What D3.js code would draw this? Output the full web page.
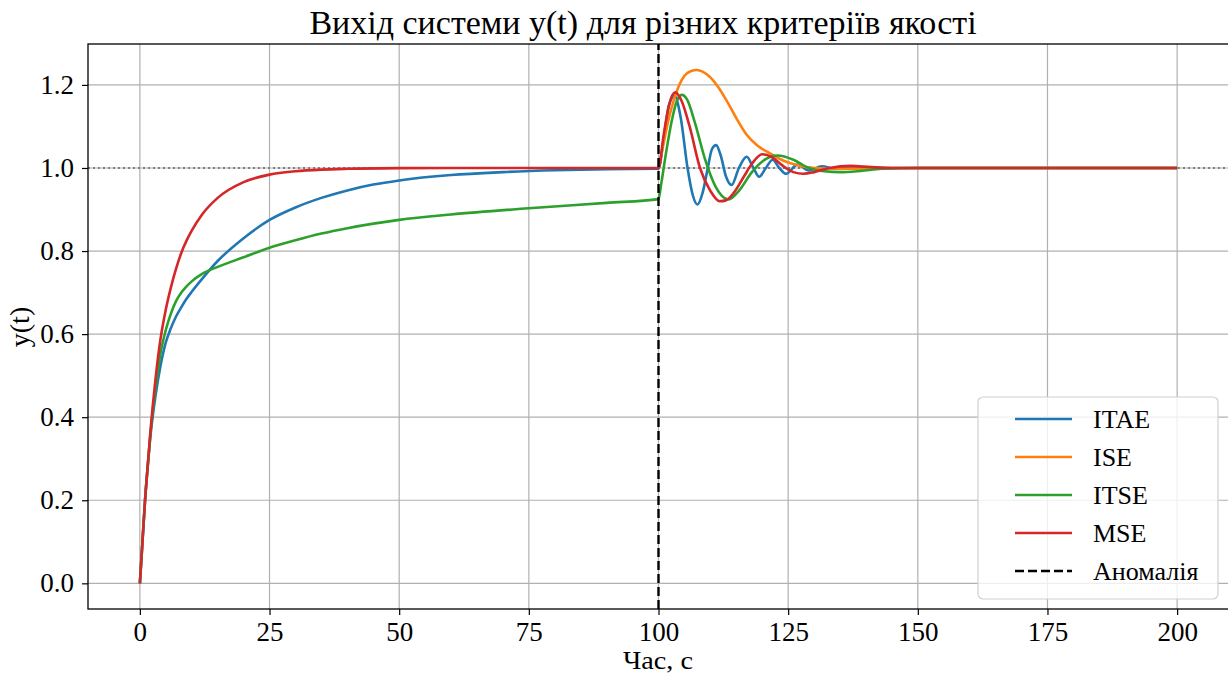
<!DOCTYPE html>
<meta charset="utf-8">
<script src="https://cdn.jsdelivr.net/npm/d3@7"></script>
<style>
body { margin: 0; background: #fff; }
text { font-family: "Liberation Serif", "Times New Roman", serif; fill: #000; }
.grid line { stroke: #b0b0b0; stroke-width: 1.2px; }
.series { fill: none; stroke-width: 2.6px; }
</style>
<body>
<div id="chart"></div>
<script>
// values: [time, y]
var itae = [[0,0],[0.5,0.1],[1,0.2],[1.5,0.28],[2,0.35],[3,0.45],[4,0.525],[5,0.58],[6,0.615],[7,0.643],[8,0.665],
  [9,0.685],[10,0.702],[12,0.733],[15,0.776],[20,0.831],[25,0.875],[30,0.905],[35,0.928],[40,0.946],[45,0.96],
  [50,0.97],[60,0.983],[70,0.99],[80,0.9945],[90,0.997],[100,0.998],
  [101,1.07],[102,1.15],[103.1,1.174],[104.3,1.12],[105.6,1.0],[106.6,0.935],[107.5,0.912],[108.5,0.94],[109.5,1.0],
  [110.3,1.045],[111.1,1.055],[112,1.03],[113,0.98],[114.1,0.959],[115.5,1.0],[117,1.027],[118.3,1.0],[119.4,0.979],
  [120.7,1.0],[122,1.02],[123.3,1.0],[124.6,0.986],[126.8,1.008],[129,0.994],[131.5,1.004],[134,0.998],[138,1.001],[145,1.0],[200,1.0]];

var ise = [[100,1.0],[101,1.06],[102,1.12],[103,1.165],[104,1.2],[105,1.222],[106.2,1.233],[107.4,1.236],[108.5,1.232],
  [110,1.218],[111.5,1.195],[113,1.165],[115,1.12],[117,1.08],[119,1.055],[121.5,1.035],[124,1.018],[127,1.006],
  [130,1.0],[135,0.998],[140,0.999],[150,1.0],[200,1.0]];

var itse = [[0,0],[0.5,0.1],[1,0.2],[1.5,0.28],[2,0.355],[3,0.47],[4,0.555],[5,0.61],[6,0.65],[7,0.68],[8,0.7],
  [9,0.715],[10,0.727],[12,0.745],[15,0.762],[20,0.785],[25,0.808],[30,0.826],[35,0.842],[40,0.855],[50,0.875],
  [60,0.888],[75,0.903],[90,0.916],[100,0.925],
  [100.5,0.96],[101.5,1.04],[102.5,1.11],[103.5,1.16],[104.5,1.176],[105.5,1.165],[107,1.11],[109,1.02],[111,0.955],
  [113.5,0.924],[115.5,0.945],[118,0.99],[120.5,1.02],[123,1.03],[126,1.02],[129,1.0],[132,0.992],[135,0.99],
  [139,0.993],[143,0.998],[150,1.0],[200,1.0]];

var mse = [[0,0],[0.5,0.1],[1,0.2],[1.5,0.28],[2,0.36],[3,0.49],[4,0.59],[5,0.659],[6,0.713],[7,0.758],[8,0.796],
  [9,0.825],[10,0.849],[12,0.888],[15,0.928],[20,0.966],[25,0.984],[30,0.992],[35,0.996],[40,0.998],[50,0.9996],
  [60,1.0],[100,1.0],
  [101,1.08],[102,1.15],[103.2,1.182],[104.5,1.16],[106,1.1],[108,1.0],[110,0.945],[111.8,0.92],[113,0.922],
  [114.5,0.94],[116.5,0.98],[118,1.01],[120,1.033],[122,1.025],[124,1.005],[126,0.99],[128,0.986],[130,0.99],
  [133,1.0],[137,1.005],[141,1.002],[145,1.0],[200,1.0]];

var seriesNames = ["ITAE", "ISE", "ITSE", "MSE"];
var seriesColors = ["#1f77b4", "#ff7f0e", "#2ca02c", "#d62728"];
var seriesData = [itae, ise, itse, mse];
var xTicks = [0, 25, 50, 75, 100, 125, 150, 175, 200];
var yTicks = [0.0, 0.2, 0.4, 0.6, 0.8, 1.0, 1.2];
var anomalyTime = 100;
var setpoint = 1.0;

var W = 1228, H = 676;
var margin = {top: 44, left: 88, bottom: 67, right: -1};

var svg = d3.select("#chart").append("svg")
  .attr("width", W).attr("height", H);

var x = d3.scaleLinear().domain([-10, 210]).range([margin.left, W - margin.right]);
var y = d3.scaleLinear().domain([-0.0618, 1.2985]).range([H - margin.bottom, margin.top]);

svg.append("clipPath").attr("id", "clip")
  .append("rect")
  .attr("x", x.range()[0]).attr("y", y.range()[1])
  .attr("width", x.range()[1] - x.range()[0]).attr("height", y.range()[0] - y.range()[1]);

// grid
var grid = svg.append("g").attr("class", "grid");
grid.selectAll(".gx").data(xTicks).enter().append("line")
  .attr("x1", function(d){ return x(d); }).attr("x2", function(d){ return x(d); })
  .attr("y1", y.range()[0]).attr("y2", y.range()[1]);
grid.selectAll(".gy").data(yTicks).enter().append("line")
  .attr("x1", x.range()[0]).attr("x2", x.range()[1])
  .attr("y1", function(d){ return y(d); }).attr("y2", function(d){ return y(d); });

// setpoint line
svg.append("line")
  .attr("x1", x.range()[0]).attr("x2", x.range()[1])
  .attr("y1", y(setpoint)).attr("y2", y(setpoint))
  .attr("stroke", "#808080").attr("stroke-width", 1.8).attr("stroke-dasharray", "2,3");

var line = d3.line()
  .x(function(d){ return x(d[0]); })
  .y(function(d){ return y(d[1]); })
  .curve(d3.curveMonotoneX);

var plot = svg.append("g").attr("clip-path", "url(#clip)");
plot.selectAll(".series").data(seriesData).enter().append("path")
  .attr("class", "series")
  .attr("stroke", function(d, i){ return seriesColors[i]; })
  .attr("d", line);

svg.append("line")
  .attr("x1", x(anomalyTime)).attr("x2", x(anomalyTime))
  .attr("y1", y.range()[0]).attr("y2", y.range()[1])
  .attr("stroke", "#000").attr("stroke-width", 2.4).attr("stroke-dasharray", "9,4");

// axes
var xAxis = svg.append("g")
  .attr("transform", "translate(0," + y.range()[0] + ")")
  .call(d3.axisBottom(x).tickValues(xTicks).tickSize(6).tickPadding(7).tickFormat(d3.format("d")));
var yAxis = svg.append("g")
  .attr("transform", "translate(" + x.range()[0] + ",0)")
  .call(d3.axisLeft(y).tickValues(yTicks).tickSize(6).tickPadding(8).tickFormat(d3.format(".1f")));
[xAxis, yAxis].forEach(function(a){
  a.select(".domain").remove();
  a.selectAll("text").style("font-size", "27px").style("font-family", "'Liberation Serif', serif");
  a.selectAll("line").attr("stroke", "#000").attr("stroke-width", 1.2);
});

// frame
svg.append("rect")
  .attr("x", x.range()[0]).attr("y", y.range()[1])
  .attr("width", x.range()[1] - x.range()[0]).attr("height", y.range()[0] - y.range()[1])
  .attr("fill", "none").attr("stroke", "#000").attr("stroke-width", 1.3);

// labels
svg.append("text")
  .attr("x", 643).attr("y", 34)
  .attr("text-anchor", "middle").style("font-size", "34px")
  .text("Вихід системи y(t) для різних критеріїв якості");
svg.append("text")
  .attr("x", 658).attr("y", 669)
  .attr("text-anchor", "middle").style("font-size", "25px")
  .attr("textLength", 70).attr("lengthAdjust", "spacingAndGlyphs")
  .text("Час, с");
svg.append("text")
  .attr("transform", "translate(29,327) rotate(-90)")
  .attr("text-anchor", "middle").style("font-size", "28px")
  .text("y(t)");

// legend
var legendItems = seriesNames.map(function(n, i){ return {name: n, color: seriesColors[i], dash: null}; });
legendItems.push({name: "Аномалія", color: "#000", dash: "9,4"});
var lg = svg.append("g").attr("transform", "translate(978,397)");
lg.append("rect").attr("width", 240).attr("height", 202).attr("rx", 5)
  .attr("fill", "#fff").attr("fill-opacity", 0.8).attr("stroke", "#d0d0d0").attr("stroke-width", 1.2);
var rows = lg.selectAll(".row").data(legendItems).enter().append("g")
  .attr("transform", function(d, i){ return "translate(0," + (22 + i * 38) + ")"; });
rows.append("line").attr("x1", 37).attr("x2", 94)
  .attr("stroke", function(d){ return d.color; })
  .attr("stroke-width", function(d){ return d.dash ? 2.4 : 2.6; })
  .attr("stroke-dasharray", function(d){ return d.dash; });
rows.append("text").attr("x", 115).attr("y", 9).style("font-size", "26px")
  .text(function(d){ return d.name; });
</script>
</body>
